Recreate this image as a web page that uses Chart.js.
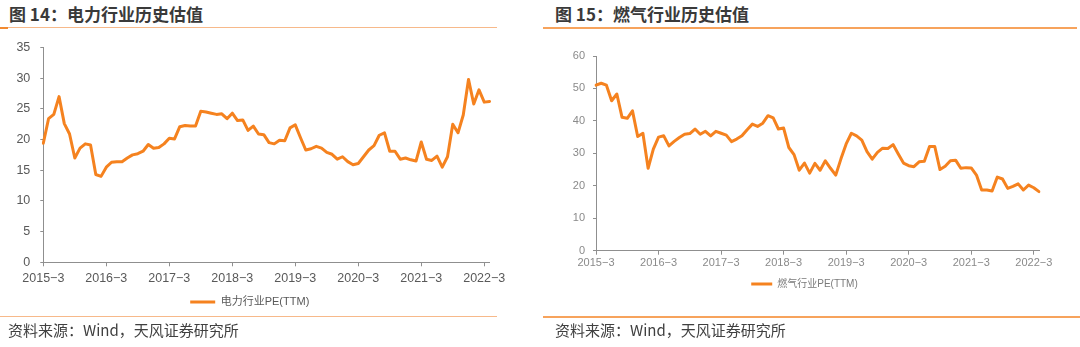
<!DOCTYPE html>
<html>
<head>
<meta charset="utf-8">
<script src="https://cdn.jsdelivr.net/npm/chart.js@4.4.1/dist/chart.umd.min.js"></script>
<style>
  html, body { margin: 0; padding: 0; background: #fff; }
  body { width: 1080px; height: 347px; position: relative; overflow: hidden; }
  .title { position: absolute; top: 2px; font-family: "Noto Sans CJK SC", sans-serif; font-weight: bold;
           font-size: 17px; line-height: 24px; color: #3a3a3a; white-space: nowrap; }
  .rule { position: absolute; }
  .src { position: absolute; top: 319px; font-family: "Noto Sans CJK SC", sans-serif; font-size: 15px;
         line-height: 22px; color: #404040; white-space: nowrap; }
  .box { position: absolute; }
  canvas { display: block; }
</style>
</head>
<body>
  <div class="title" style="left:9px;">图 14：电力行业历史估值</div>
  <div class="title" style="left:555px;">图 15：燃气行业历史估值</div>
  <div class="rule" style="left:0;top:27px;width:497px;height:1px;background:#f7b98a;"></div>
  <div class="rule" style="left:0;top:27px;width:8px;height:2px;background:#f28a30;"></div>
  <div class="rule" style="left:543px;top:27px;width:534px;height:2px;background:#f7a35c;"></div>

  <div class="box" style="left:0;top:30px;width:540px;height:300px;"><canvas id="power" width="540" height="300"></canvas></div>
  <div class="box" style="left:540px;top:30px;width:540px;height:290px;"><canvas id="gas" width="540" height="290"></canvas></div>

  <div class="rule" style="left:0;top:316px;width:497px;height:1px;background:#f7b98a;"></div>
  <div class="rule" style="left:543px;top:316px;width:537px;height:2px;background:#f7a35c;"></div>
  <div class="src" style="left:8px;">资料来源：Wind，天风证券研究所</div>
  <div class="src" style="left:555px;">资料来源：Wind，天风证券研究所</div>

<script>
// Monthly observations, March 2015 through April 2022
const startYear = 2015;
const startMonth = 3;
const monthCount = 86;
const months = [];
for (let i = 0; i < monthCount; i++) {
  const m = startMonth - 1 + i;
  months.push(`${startYear + Math.floor(m / 12)}-${(m % 12) + 1}`);
}

// 电力行业 PE(TTM)
const powerPE = [
  19.4, 23.4, 24.1, 27.0, 22.6, 20.9, 17.0, 18.6, 19.3, 19.1, 14.3, 14.0,
  15.5, 16.3, 16.4, 16.4, 17.0, 17.5, 17.7, 18.1, 19.2, 18.6, 18.7, 19.3,
  20.2, 20.1, 22.1, 22.3, 22.2, 22.2, 24.6, 24.5, 24.3, 24.1, 24.2, 23.4,
  24.3, 23.1, 23.2, 21.5, 22.2, 20.9, 20.8, 19.5, 19.3, 19.9, 19.8, 21.9,
  22.4, 20.3, 18.3, 18.5, 18.9, 18.6, 17.9, 17.6, 16.8, 17.2, 16.4, 15.9,
  16.1, 17.2, 18.3, 19.0, 20.7, 21.1, 18.1, 18.1, 16.8, 17.0, 16.7, 16.5,
  19.6, 16.8, 16.6, 17.3, 15.5, 17.2, 22.5, 21.1, 24.0, 29.8, 25.8, 28.1,
  26.1, 26.2
];

// 燃气行业 PE(TTM)
const gasPE = [
  51.0, 51.6, 51.0, 46.2, 48.3, 41.1, 40.8, 43.1, 35.2, 36.2, 25.4, 31.3,
  35.0, 35.4, 32.3, 33.7, 34.9, 35.9, 36.1, 37.5, 35.9, 36.8, 35.4, 36.8,
  36.2, 35.6, 33.6, 34.4, 35.4, 37.3, 39.0, 38.3, 39.3, 41.6, 40.9, 37.5,
  37.8, 31.8, 29.6, 24.8, 27.0, 23.9, 26.9, 24.8, 27.7, 25.4, 23.3, 28.3,
  32.9, 36.2, 35.4, 34.1, 30.5, 28.2, 30.3, 31.6, 31.5, 32.7, 29.8, 27.0,
  26.2, 25.9, 27.4, 27.6, 32.1, 32.1, 25.0, 26.0, 27.7, 27.9, 25.4, 25.6,
  25.5, 23.3, 18.7, 18.7, 18.4, 22.7, 22.1, 19.2, 19.8, 20.6, 18.7, 20.2,
  19.4, 18.2
];

const LINE = '#f5821f';
const AXIS = '#8f8f8f';
const LATIN = '"Liberation Sans", Arial, "Noto Sans CJK SC", sans-serif';

// Year ticks only on March of each year
function yearTick(value, index) {
  const lab = months[index];
  return lab.endsWith('-3') ? lab.replace('-', '−') : null;
}

function buildChart(id, cfg) {
  return new Chart(document.getElementById(id), {
    type: 'line',
    data: {
      labels: months,
      datasets: [{
        label: cfg.name,
        data: cfg.values,
        borderColor: LINE,
        backgroundColor: LINE,
        borderWidth: 3,
        pointRadius: 0,
        tension: 0,
        borderJoinStyle: 'round',
        borderCapStyle: 'round'
      }]
    },
    options: {
      responsive: false,
      devicePixelRatio: 1,
      animation: false,
      events: [],
      layout: { padding: cfg.padding },
      plugins: {
        tooltip: { enabled: false },
        legend: {
          position: 'bottom',
          labels: {
            boxWidth: cfg.boxWidth,
            boxHeight: 3,
            padding: 10,
            color: cfg.legendColor,
            font: { family: LATIN, size: cfg.legendSize },
            generateLabels: (chart) =>
              Chart.defaults.plugins.legend.labels.generateLabels(chart)
                .map(l => Object.assign(l, { lineWidth: 0, fillStyle: LINE }))
          }
        }
      },
      scales: {
        x: {
          type: 'category',
          offset: false,
          afterFit: (s) => { s.height = cfg.xHeight; },
          border: { color: AXIS, width: 1 },
          grid: { drawOnChartArea: false, drawTicks: true, tickLength: 4, tickColor: AXIS },
          ticks: {
            autoSkip: false, maxRotation: 0, minRotation: 0,
            padding: cfg.xPad,
            color: cfg.tickColor,
            font: { family: LATIN, size: cfg.tickSize },
            callback: yearTick
          }
        },
        y: {
          min: 0, max: cfg.max,
          afterFit: (s) => { s.width = cfg.yWidth; },
          border: { color: AXIS, width: 1 },
          grid: { drawOnChartArea: false, drawTicks: true, tickLength: 3, tickColor: AXIS },
          ticks: {
            stepSize: cfg.step,
            padding: cfg.yPad,
            color: cfg.tickColor,
            font: { family: LATIN, size: cfg.tickSize }
          }
        }
      }
    }
  });
}

buildChart('power', {
  name: '电力行业PE(TTM)',
  values: powerPE,
  max: 35, step: 5,
  padding: { left: 10, top: 12, right: 50.5, bottom: 12.5 },
  yWidth: 33.3, xHeight: 24.2,
  xPad: 5, yPad: 10,
  tickColor: '#595959', tickSize: 12.5,
  legendColor: '#595959', legendSize: 11, boxWidth: 25
});

buildChart('gas', {
  name: '燃气行业PE(TTM)',
  values: gasPE,
  max: 60, step: 10,
  padding: { left: 30, top: 26, right: 41, bottom: 21 },
  yWidth: 26, xHeight: 18.3,
  xPad: 2, yPad: 8,
  tickColor: '#8a8a8a', tickSize: 11,
  legendColor: '#7a7a7a', legendSize: 10, boxWidth: 21
});
</script>
</body>
</html>
